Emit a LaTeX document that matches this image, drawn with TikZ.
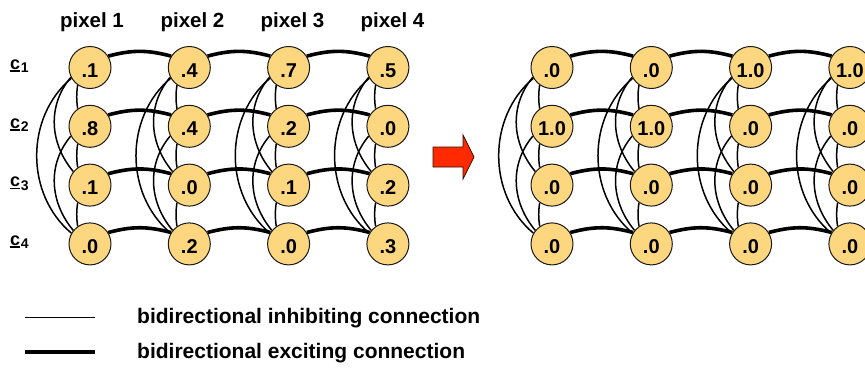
\documentclass[tikz,border=0pt]{standalone}
\usepackage{fontspec}
\setmainfont{Liberation Sans}
\definecolor{nodefill}{HTML}{FDD680}
\definecolor{arrowred}{HTML}{FF2A00}
\definecolor{arrowedge}{HTML}{3A0A00}
\pgfdeclarelayer{bg}
\pgfsetlayers{bg,main}
\tikzset{
  unit/.style={circle, draw=black!90, line width=1pt, fill=nodefill,
    minimum size=42pt, inner sep=0pt, text height=19.3pt, text depth=0pt,
    font=\fontsize{20}{20}\selectfont\bfseries},
  excite/.style={line width=3.6pt},
  inhibit/.style={line width=1.5pt},
  pixlab/.style={anchor=base, inner sep=0pt, font=\fontsize{20.5}{20.5}\selectfont\bfseries},
  rowlab/.style={anchor=base west, inner sep=0pt, font=\fontsize{18}{18}\selectfont\bfseries},
  leglab/.style={anchor=base west, inner sep=0pt, font=\fontsize{21}{21}\selectfont\bfseries},
  thinleg/.style={line width=1pt},
  thickleg/.style={line width=4pt},
}
\newcommand\gridrow[4]{%
  \foreach \v [count=\cc] in {#4} {
    \node[unit] (#1-#3-\cc) at ({#2+99.3*(\cc-1)}, {-(67.5+58.8*(#3-1))}) {\v};
  }}
\newcommand\ulc[1]{\rlap{\rule[-2.8pt]{10pt}{1.6pt}}c\raisebox{-3.8pt}{\fontsize{14}{14}\selectfont\hspace{0.6pt}#1}}
\newcommand\gridlinks[1]{%
  \foreach \cc in {1,2,3,4} {
    \foreach \rr in {1,2,3} {
      \pgfmathtruncatemacro\nx{\rr+1}
      \draw[inhibit] (#1-\rr-\cc.235) to[bend right=8] (#1-\nx-\cc.125);
    }
    \foreach \rr in {1,2} {
      \pgfmathtruncatemacro\nx{\rr+2}
      \draw[inhibit] (#1-\rr-\cc.207) to[out=230,in=130] (#1-\nx-\cc.141);
    }
    \draw[inhibit] (#1-1-\cc.210) to[out=220,in=140] (#1-4-\cc.150);
  }
  \foreach \rr in {1,2,3,4} {
    \foreach \cc in {1,2,3} {
      \pgfmathtruncatemacro\nx{\cc+1}
      \draw[excite] (#1-\rr-\cc.32) to[out=15,in=165] (#1-\rr-\nx.148);
    }
  }}
\begin{document}
\begin{tikzpicture}[x=1pt,y=1pt]
\useasboundingbox (0,-367) rectangle (865,0);

% left grid
\gridrow{L}{90}{1}{.1,.4,.7,.5}
\gridrow{L}{90}{2}{.8,.4,.2,.0}
\gridrow{L}{90}{3}{.1,.0,.1,.2}
\gridrow{L}{90}{4}{.0,.2,.0,.3}
% right grid
\gridrow{R}{552}{1}{.0,.0,1.0,1.0}
\gridrow{R}{552}{2}{1.0,1.0,.0,.0}
\gridrow{R}{552}{3}{.0,.0,.0,.0}
\gridrow{R}{552}{4}{.0,.0,.0,.0}

\begin{pgfonlayer}{bg}
\gridlinks{L}
\gridlinks{R}
\end{pgfonlayer}

% column labels
\node[pixlab] (p1) at (92,-27) {pixel 1};
\node[pixlab] (p2) at (192.5,-27) {pixel 2};
\node[pixlab] (p3) at (292.5,-27) {pixel 3};
\node[pixlab] (p4) at (392.5,-27) {pixel 4};

% row labels
\node[rowlab] (c1) at (10,-69) {\ulc{1}};
\node[rowlab] (c2) at (10,-128) {\ulc{2}};
\node[rowlab] (c3) at (10,-186.5) {\ulc{3}};
\node[rowlab] (c4) at (10,-245) {\ulc{4}};

% arrow
\draw[fill=arrowred, draw=arrowedge, line width=0.8pt]
  (433,-147) -- (463,-147) -- (463,-135) -- (474,-157) -- (463,-179)
  -- (463,-167) -- (433,-167) -- cycle;

% legend
\coordinate (t1) at (25,-317);
\coordinate (t2) at (95,-317);
\coordinate (k1) at (25,-352);
\coordinate (k2) at (95,-352);
\draw[thinleg] (t1) -- (t2);
\draw[thickleg] (k1) -- (k2);
\node[leglab] (l1) at (137,-323.5) {bidirectional inhibiting connection};
\node[leglab] (l2) at (137,-358) {bidirectional exciting connection};
\end{tikzpicture}
\end{document}
